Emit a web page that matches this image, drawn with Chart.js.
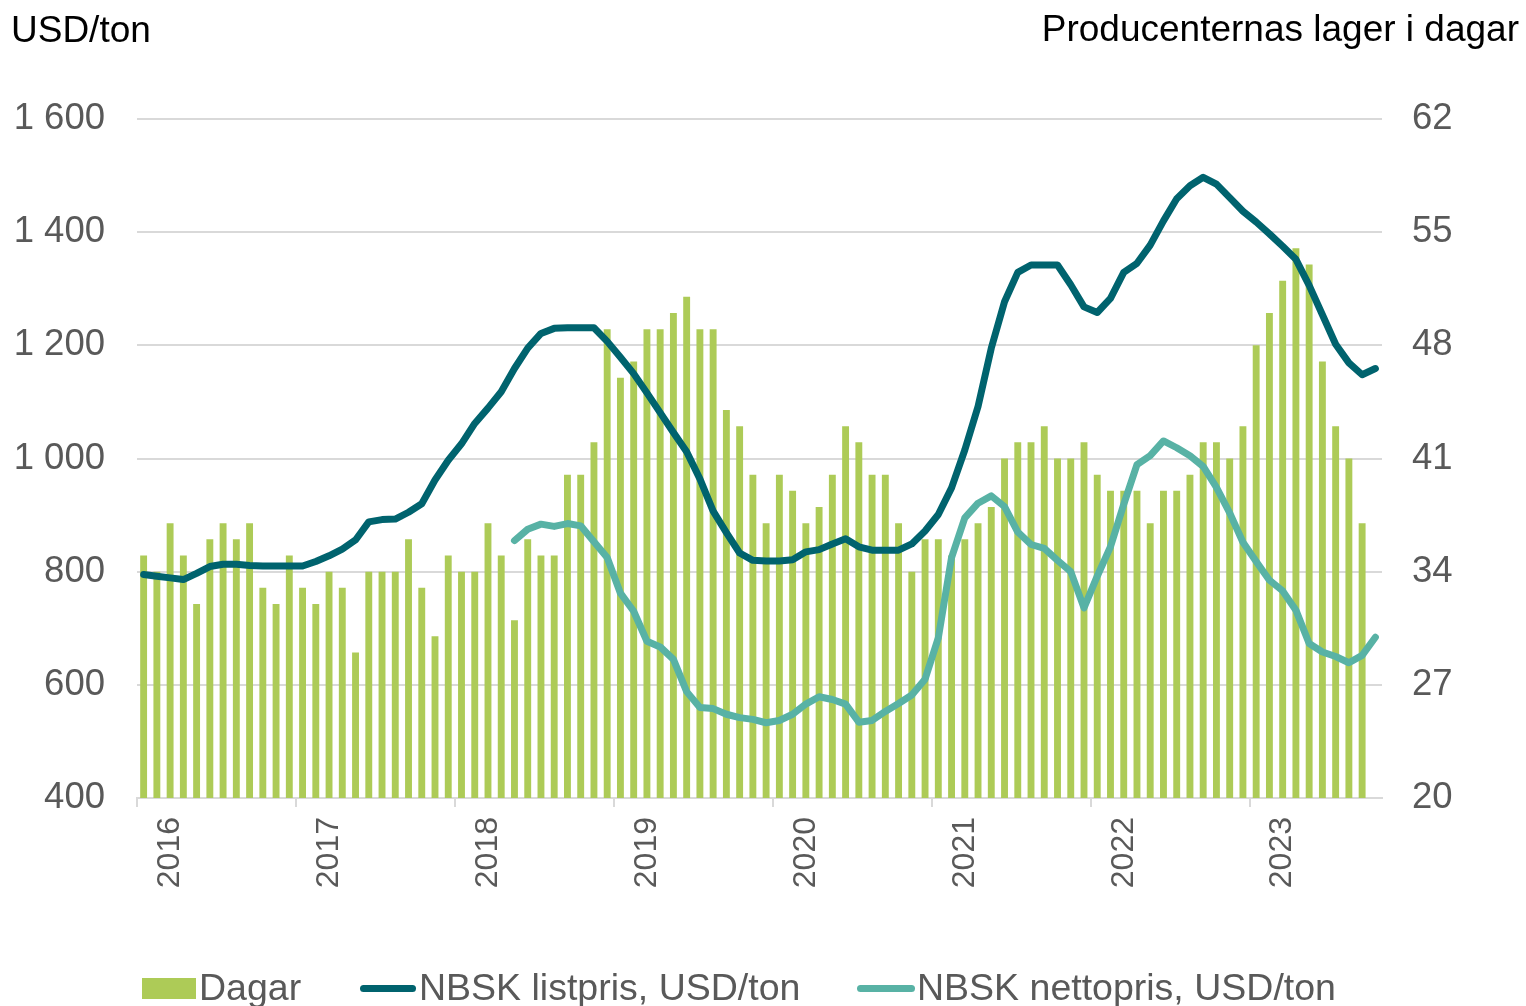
<!DOCTYPE html>
<html>
<head>
<meta charset="utf-8">
<script src="https://cdn.jsdelivr.net/npm/chart.js@4.4.1/dist/chart.umd.min.js"></script>
<style>
  body { margin: 0; background: #fff; font-family: "Liberation Sans", Arial, sans-serif; }
  #wrap { position: relative; width: 1526px; height: 1006px; overflow: hidden; }
  .title { position: absolute; font-size: 37px; line-height: 37px; color: #000; white-space: nowrap; }
  .leg { position: absolute; top: 969px; font-size: 37.5px; line-height: 37px; color: #595959; white-space: nowrap; }
  .box { position: absolute; }
</style>
</head>
<body>
<div id="wrap">
  <canvas id="pulpChart"></canvas>
  <div class="title" style="left:11px; top:11px;">USD/ton</div>
  <div class="title" style="right:7px; top:10px;">Producenternas lager i dagar</div>

  <!-- legend -->
  <div class="box" style="left:142px; top:978px; width:54px; height:21px; background:#adcb57;"></div>
  <div class="leg" style="left:199px;">Dagar</div>
  <div class="box" style="left:360px; top:985px; width:56px; height:7px; border-radius:4px; background:#00636e;"></div>
  <div class="leg" style="left:419px;">NBSK listpris, USD/ton</div>
  <div class="box" style="left:857px; top:985px; width:58px; height:7px; border-radius:4px; background:#58b2a5;"></div>
  <div class="leg" style="left:917px;">NBSK nettopris, USD/ton</div>
</div>

<script>
//Months jan 2016 - okt 2023
var months = [];
for (var y = 2016; y <= 2023; y++) {
	for (var m = 1; m <= 12; m++) {
		if (y == 2023 && m > 10) break;
		months.push(y + '-' + (m < 10 ? '0' + m : m));
	}
}

//Producenternas lager i dagar (right axis)
var dagar = [
	35, 34, 37, 35, 32, 36, 37, 36, 37, 33, 32, 35,
	33, 32, 34, 33, 29, 34, 34, 34, 36, 33, 30, 35,
	34, 34, 37, 35, 31, 36, 35, 35, 40, 40, 42, 49,
	46, 47, 49, 49, 50, 51, 49, 49, 44, 43, 40, 37,
	40, 39, 37, 38, 40, 43, 42, 40, 40, 37, 34, 36,
	36, 35, 36, 37, 38, 41, 42, 42, 43, 41, 41, 42,
	40, 39, 39, 39, 37, 39, 39, 40, 42, 42, 41, 43,
	48, 50, 52, 54, 53, 47, 43, 41, 37, null
];

//NBSK listpris, USD/ton
var listpris = [
	795, 792, 789, 786, 797, 809, 813, 813, 811, 810, 810, 810,
	810, 818, 828, 840, 856, 888, 892, 893, 905, 920, 962, 997,
	1026, 1062, 1089, 1118, 1159, 1195, 1221, 1230, 1231, 1231, 1231, 1207,
	1179, 1150, 1116, 1081, 1046, 1012, 964, 907, 869, 833, 820, 819,
	819, 821, 835, 839, 849, 858, 844, 838, 838, 838, 849, 872,
	901, 948, 1015, 1092, 1195, 1277, 1329, 1342, 1342, 1342, 1307, 1268,
	1258, 1283, 1329, 1345, 1377, 1420, 1459, 1482, 1497, 1485, 1461, 1437,
	1418, 1397, 1375, 1352, 1306, 1254, 1202, 1169, 1148, 1159
];

//NBSK nettopris, USD/ton (starts may 2018)
var nettopris = [
	null, null, null, null, null, null, null, null, null, null, null, null,
	null, null, null, null, null, null, null, null, null, null, null, null,
	null, null, null, null, 855, 875, 884, 880, 885, 881, 853, 825,
	762, 730, 677, 667, 645, 588, 560, 558, 548, 542, 539, 533,
	537, 548, 566, 579, 574, 566, 534, 537, 553, 567, 582, 610,
	683, 825, 895, 921, 934, 915, 870, 848, 841, 820, 800, 736,
	792, 844, 919, 989, 1005, 1031, 1019, 1005, 986, 949, 904, 852,
	818, 785, 766, 732, 673, 658, 650, 639, 652, 684
];

var grey = '#595959';
var gridGrey = '#d9d9d9';

//"1 600" style numbers
function spaced(v) {
	var s = String(v);
	if (s.length > 3) s = s.slice(0, s.length - 3) + ' ' + s.slice(-3);
	return s;
}

var cv = document.getElementById('pulpChart');
cv.width = 1526;
cv.height = 1006;

var chart = new Chart(cv.getContext('2d'), {
	type: 'bar',
	data: {
		labels: months,
		datasets: [{
			type: 'line',
			label: 'NBSK listpris, USD/ton',
			data: listpris,
			yAxisID: 'y',
			borderColor: '#00636e',
			borderWidth: 7,
			pointRadius: 0,
			tension: 0,
			borderCapStyle: 'round',
			borderJoinStyle: 'round',
			order: 1
		}, {
			type: 'line',
			label: 'NBSK nettopris, USD/ton',
			data: nettopris,
			yAxisID: 'y',
			borderColor: '#58b2a5',
			borderWidth: 7,
			pointRadius: 0,
			tension: 0,
			borderCapStyle: 'round',
			borderJoinStyle: 'round',
			order: 2
		}, {
			label: 'Dagar',
			data: dagar,
			yAxisID: 'y1',
			backgroundColor: '#adcb57',
			barPercentage: 0.52,
			categoryPercentage: 1.0,
			order: 3
		}]
	},
	options: {
		responsive: false,
		animation: false,
		layout: { padding: { top: 119, left: 0, right: 0, bottom: 0 } },
		plugins: {
			legend: { display: false },
			tooltip: { enabled: false }
		},
		scales: {
			x: {
				offset: true,
				grid: {
					offset: true,
					drawOnChartArea: false,
					tickLength: 9,
					lineWidth: 2,
					color: function(ctx) {
						return ctx.index % 12 == 0 ? gridGrey : 'rgba(0,0,0,0)';
					}
				},
				border: { color: gridGrey, width: 2 },
				ticks: {
					autoSkip: false,
					maxRotation: 90,
					minRotation: 90,
					padding: 10,
					color: grey,
					font: { family: 'Liberation Sans', size: 32 },
					callback: function(val, idx) {
						return idx % 12 == 2 ? months[idx].slice(0, 4) : '';
					}
				},
				afterFit: function(scale) { scale.height = 208; }
			},
			y: {
				position: 'left',
				min: 400,
				max: 1600,
				grid: { color: gridGrey, lineWidth: 2, drawTicks: false },
				border: { display: false },
				ticks: {
					stepSize: 200,
					padding: 32,
					color: grey,
					font: { family: 'Liberation Sans', size: 36.5 },
					callback: function(v) { return spaced(v); }
				},
				afterFit: function(scale) { scale.width = 137; }
			},
			y1: {
				position: 'right',
				min: 20,
				max: 62,
				grid: { display: false, drawTicks: false },
				border: { display: false },
				ticks: {
					stepSize: 7,
					padding: 30,
					color: grey,
					font: { family: 'Liberation Sans', size: 36.5 }
				},
				afterFit: function(scale) { scale.width = 144; }
			}
		}
	}
});
</script>
</body>
</html>
